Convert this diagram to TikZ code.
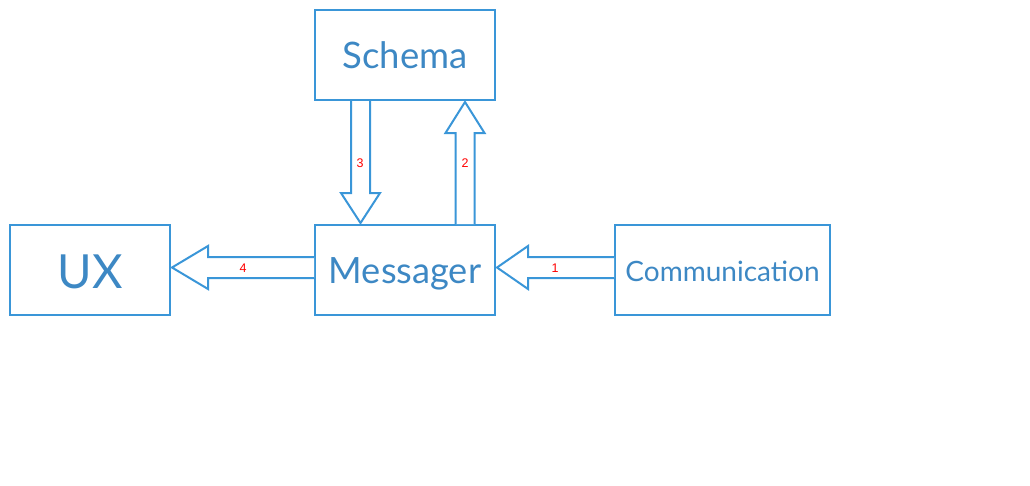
\documentclass[tikz,border=0pt]{standalone}
\usepackage{fontspec}
\setmainfont{Lato}
\newfontfamily\labfont{Liberation Sans}
\usetikzlibrary{calc}
\definecolor{boxblue}{HTML}{3A96D8}
\definecolor{txtblue}{HTML}{3D88C4}
\tikzset{
  box/.style={draw=boxblue, line width=2pt, rectangle, text=txtblue, inner sep=0pt, text depth=0pt},
  arr/.style={draw=boxblue, line width=2pt, fill=white, line join=miter},
  lab/.style={text=red, font=\labfont\fontsize{12.5}{12.5}\selectfont, inner sep=0pt}
}
\begin{document}
\begin{tikzpicture}[x=1pt,y=-1pt]
\useasboundingbox (0,0) rectangle (1030,485);
\node[box, minimum width=180pt, minimum height=90pt, text height=27pt, font=\fontsize{36.5}{36.5}\selectfont] (schema) at (405,55) {Schema};
\node[box, minimum width=180pt, minimum height=90pt, text height=26pt, font=\fontsize{36.2}{36.2}\selectfont] (msg) at (405,270) {Messager};
\node[box, minimum width=160pt, minimum height=90pt, text height=36.6pt, font=\fontsize{47}{47}\selectfont] (ux) at (90,270) {UX};
\node[box, minimum width=215pt, minimum height=90pt, text height=23pt, font=\fontsize{28}{28}\selectfont] (comm) at (722.5,270) {Communication};
% arrow 3: schema -> messager (down)
\coordinate (a3s) at ($(schema.south west)+(46.5,0)$);
\coordinate (a3e) at ($(msg.north west)+(46.5,-1)$);
\draw[arr] ($(a3s)+(-9.5,0)$) -- ($(a3e)+(-9.5,-30)$) -- ($(a3e)+(-19.5,-30)$) -- (a3e)
  -- ($(a3e)+(19.5,-30)$) -- ($(a3e)+(9.5,-30)$) -- ($(a3s)+(9.5,0)$);
% arrow 2: messager -> schema (up)
\coordinate (a2s) at ($(msg.north west)+(151,0)$);
\coordinate (a2e) at ($(schema.south west)+(151,1)$);
\draw[arr] ($(a2s)+(-9.5,0)$) -- ($(a2e)+(-9.5,31)$) -- ($(a2e)+(-19.5,31)$) -- (a2e)
  -- ($(a2e)+(19.5,31)$) -- ($(a2e)+(9.5,31)$) -- ($(a2s)+(9.5,0)$);
% arrow 4: messager -> ux (left)
\coordinate (a4s) at ($(msg.west)+(0,-2.5)$);
\coordinate (a4e) at ($(ux.east)+(1,-2.5)$);
\draw[arr] ($(a4s)+(0,-10.5)$) -- ($(a4e)+(36,-10.5)$) -- ($(a4e)+(36,-21.5)$) -- (a4e)
  -- ($(a4e)+(36,21.5)$) -- ($(a4e)+(36,10.5)$) -- ($(a4s)+(0,10.5)$);
% arrow 1: communication -> messager (left)
\coordinate (a1s) at ($(comm.west)+(0,-2.5)$);
\coordinate (a1e) at ($(msg.east)+(1,-2.5)$);
\draw[arr] ($(a1s)+(0,-10.5)$) -- ($(a1e)+(31,-10.5)$) -- ($(a1e)+(31,-21.5)$) -- (a1e)
  -- ($(a1e)+(31,21.5)$) -- ($(a1e)+(31,10.5)$) -- ($(a1s)+(0,10.5)$);
\node[lab] (l3) at (360,163) {3};
\node[lab] (l2) at (465,163) {2};
\node[lab] (l4) at (243,268) {4};
\node[lab] (l1) at (555,268) {1};
\end{tikzpicture}
\end{document}
